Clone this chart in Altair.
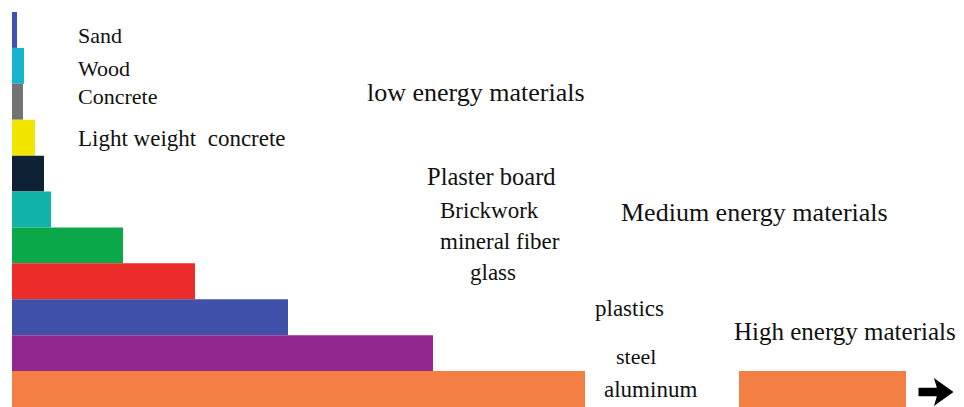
import altair as alt
import pandas as pd

# Materials (top to bottom) and their bar lengths (embodied energy, arbitrary units)
materials = ["Sand", "Wood", "Concrete", "Light weight concrete", "Plaster board",
             "Brickwork", "mineral fiber", "glass", "plastics", "steel", "aluminum"]
energy = [5, 12, 11, 23, 32, 39, 111, 183, 276, 421, 894]
colors = ["#3F51B5", "#17B3D1", "#737373", "#F2E600", "#0F2235", "#12B3A8",
          "#0BA84A", "#EE2B2B", "#3F51A8", "#93278F", "#F47F45"]

# Break drawn in the aluminum bar (axis break)
break_row = ["aluminum"]
break_start = [573]
break_end = [727]

# Text annotations (position in the same units as the bars; y measured down from top)
label_text = ["Sand", "Wood", "Concrete", "Light weight\u00a0 concrete", "Plaster board",
              "Brickwork", "mineral fiber", "glass", "plastics", "steel", "aluminum",
              "low energy materials", "Medium energy materials", "High energy materials"]
label_x = [66, 66, 66, 66, 415, 428, 428, 458, 583, 604, 592, 355, 609, 722]
label_y = [24, 57, 85, 127, 166, 199, 230, 261, 297, 345, 378, 81, 201, 320]
label_size = [22, 22, 22, 23, 24.5, 23, 23, 23, 23, 22, 23, 26, 26, 25]

# Arrow marker at the end of the broken aluminum bar
arrow_x = [924]
arrow_y = [380]

W, H = 944, 395
XDOM = [0, W]
YDOM_Q = [H, 0]

bars_df = pd.DataFrame({"material": materials, "energy": energy, "start": [0] * len(materials)})
break_df = pd.DataFrame({"material": break_row, "b0": break_start, "b1": break_end})
labels_df = pd.DataFrame({"text": label_text, "x": label_x, "y": label_y, "size": label_size})
arrow_df = pd.DataFrame({"x": arrow_x, "y": arrow_y})

yband = alt.Scale(domain=materials, paddingInner=0, paddingOuter=0)
xscale = alt.Scale(domain=XDOM, nice=False, zero=False)

bars = alt.Chart(bars_df).mark_bar(cornerRadius=0, opacity=1).encode(
    x=alt.X("start:Q", scale=xscale, axis=None),
    x2="energy:Q",
    y=alt.Y("material:N", scale=yband, axis=None, sort=None),
    color=alt.Color("material:N", scale=alt.Scale(domain=materials, range=colors), legend=None),
)

brk = alt.Chart(break_df).mark_bar(color="white", opacity=1).encode(
    x=alt.X("b0:Q", scale=xscale, axis=None),
    x2="b1:Q",
    y=alt.Y("material:N", scale=yband, axis=None, sort=None),
)

texts = alt.Chart(labels_df).mark_text(
    align="left", baseline="middle", font="Liberation Serif", color="#111111"
).encode(
    x=alt.X("x:Q", scale=xscale, axis=None),
    y=alt.Y("y:Q", scale=alt.Scale(domain=YDOM_Q, nice=False, zero=False), axis=None),
    text="text:N",
    size=alt.Size("size:Q", scale=None, legend=None),
)

arrow_path = "M-1,-0.24 L0.05,-0.24 L-0.12,-0.8 L1,0 L-0.12,0.8 L0.05,0.24 L-1,0.24 Z"
arrow = alt.Chart(arrow_df).mark_point(
    shape=arrow_path, filled=True, color="black", size=1225, opacity=1
).encode(
    x=alt.X("x:Q", scale=xscale, axis=None),
    y=alt.Y("y:Q", scale=alt.Scale(domain=YDOM_Q, nice=False, zero=False), axis=None),
)

chart = alt.layer(bars, brk, texts, arrow).resolve_scale(
    y="independent"
).properties(
    width=W, height=H,
    autosize=alt.AutoSizeParams(type="none"),
    padding={"left": 4, "top": 4, "right": 0, "bottom": 0},
    background="white",
).configure_view(stroke=None)

chart.save("out.html", embed_options={"renderer": "svg", "actions": False})
